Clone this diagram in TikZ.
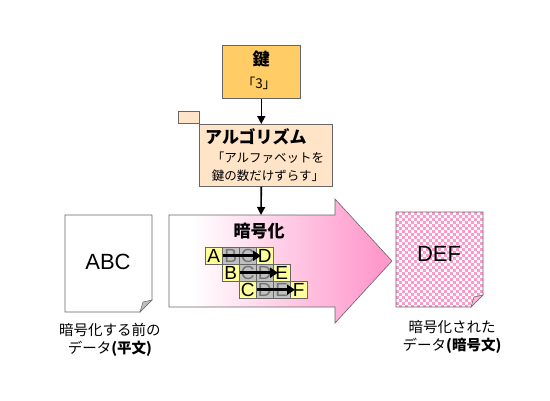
\documentclass[tikz,border=0pt]{standalone}
\usepackage{fontspec}
\setmainfont{Liberation Sans}
\newfontfamily\jp{Noto Sans CJK JP}
\usetikzlibrary{arrows.meta}
\definecolor{keyc}{HTML}{FFCC66}
\definecolor{algc}{HTML}{FFE4C8}
\definecolor{pinkc}{HTML}{FF99CC}
\definecolor{checkc}{HTML}{FF99CC}
\definecolor{celly}{HTML}{FFFF99}
\definecolor{cellg}{HTML}{C0C0C0}
\definecolor{edgec}{HTML}{666666}
\pgfdeclarehorizontalshading{arrowshade}{100bp}{color(0bp)=(white); color(30bp)=(white); color(72bp)=(pinkc); color(100bp)=(pinkc)}
\tikzset{
  box/.style={draw=edgec, line width=0.6pt, inner sep=0pt},
  flow/.style={line width=1.6pt, -{Triangle[length=8pt,width=8pt]}},
  cell/.style={draw=edgec, line width=0.5pt, minimum width=17pt, minimum height=17pt, inner sep=0pt, anchor=north west, font=\fontsize{19}{19}\selectfont},
  ycell/.style={cell, fill=celly},
  gcell/.style={cell, fill=cellg, text=black!55},
  gridarrow/.style={line width=2.8pt, -{Triangle[length=8pt,width=10pt]}},
  docline/.style={draw=edgec, line width=0.6pt},
  jpbold/.style={font=\jp\bfseries\fontsize{17}{17}\selectfont},
  jplabel/.style={font=\jp\fontsize{14.5}{17.5}\selectfont, align=center},
  bigtext/.style={font=\fontsize{22}{22}\selectfont}
}
\begin{document}
\begin{tikzpicture}[x=1pt,y=-1pt]
\useasboundingbox (0,0) rectangle (550,400);

% key box
\node[box, fill=keyc, minimum width=78pt, minimum height=53pt, anchor=north west] (key) at (222,45) {};
\node[jpbold] (keyt) at (261,59) {鍵};
\node[font=\jp\fontsize{13.5}{13.5}\selectfont] (keyv) at (259,83) {「3」};

% algorithm box
\node[box, fill=algc, minimum width=21pt, minimum height=12pt, anchor=north west] (tab) at (178,111) {};
\node[box, fill=algc, minimum width=133pt, minimum height=62pt, anchor=north west] (algo) at (199,124) {};
\node[jpbold, anchor=west, inner sep=0pt] (algt) at (205,137) {アルゴリズム};
\node[font=\jp\fontsize{12.5}{18}\selectfont, align=center] (algd) at (268,167) {「アルファベットを\\鍵の数だけずらす」};

% big arrow
\shadedraw[shading=arrowshade, draw=edgec, line width=0.6pt]
  (169,215) -- (335,215) -- (335,199) -- (392,261) -- (335,323) -- (335,307) -- (169,307) -- cycle;
\coordinate (atop) at (261,215);
\node[jpbold] (enc) at (259,231) {暗号化};

% connectors
\draw[flow] (key.south) -- (key.south |- algo.north);
\draw[flow] (key.south |- algo.south) -- (atop);

% letter grid
\node[ycell] (r1a) at (205,247) {A};
\node[gcell] (r1b) at (222,247) {B};
\node[gcell] (r1c) at (239,247) {C};
\node[ycell] (r1d) at (256,247) {D};
\node[ycell] (r2a) at (222,264) {B};
\node[gcell] (r2b) at (239,264) {C};
\node[gcell] (r2c) at (256,264) {D};
\node[ycell] (r2d) at (273,264) {E};
\node[ycell] (r3a) at (239,281) {C};
\node[gcell] (r3b) at (256,281) {D};
\node[gcell] (r3c) at (273,281) {E};
\node[ycell] (r3d) at (290,281) {F};
\draw[gridarrow] (r1a.east) -- ([xshift=5pt]r1d.west);
\draw[gridarrow] (r2a.east) -- ([xshift=5pt]r2d.west);
\draw[gridarrow] (r3a.east) -- ([xshift=5pt]r3d.west);

% plain document
\draw[docline, fill=white] (65,215) -- (152,215) -- (152,300) -- (140,312) -- (65,312) -- cycle;
\filldraw[fill=cellg, draw=edgec, line width=0.5pt] (152,300) -- (140,312) -- (143,302) -- cycle;
\node[bigtext] (abc) at (108,262) {ABC};
\node[jplabel] (lbl1) at (110,340) {暗号化する前の\\データ{\bfseries(平文)}};

% cipher document
\fill[white] (396,212) -- (483,212) -- (483,295) -- (471,307) -- (396,307) -- cycle;
\begin{scope}
  \clip (396,212) -- (483,212) -- (483,295) -- (471,307) -- (396,307) -- cycle;
  \foreach \i in {0,...,14} {
    \foreach \j in {0,...,15} {
      \fill[checkc] (396+6*\i,212+6*\j) rectangle ++(3,3);
      \fill[checkc] (399+6*\i,215+6*\j) rectangle ++(3,3);
    }
  }
\end{scope}
\draw[docline] (396,212) -- (483,212) -- (483,295) -- (471,307) -- (396,307) -- cycle;
\filldraw[fill=pinkc!70, draw=edgec, line width=0.5pt] (483,295) -- (471,307) -- (474,297) -- cycle;
\node[bigtext] (def) at (439,254) {DEF};
\node[jplabel] (lbl2) at (452,337) {暗号化された\\データ{\bfseries(暗号文)}};
\end{tikzpicture}
\end{document}
